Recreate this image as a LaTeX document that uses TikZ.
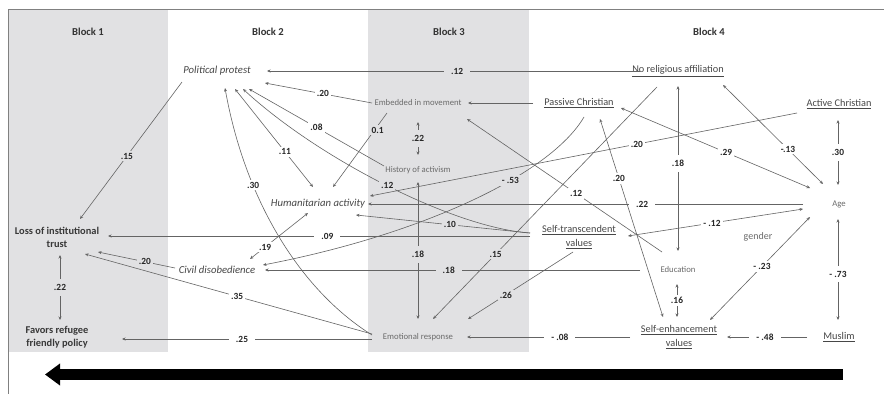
\documentclass[tikz,border=0pt]{standalone}
\usepackage{fontspec}
\setmainfont{Carlito}
\usetikzlibrary{arrows.meta,calc}
\definecolor{blockgray}{RGB}{225,225,227}
\definecolor{linegray}{RGB}{100,100,100}
\begin{document}
\begin{tikzpicture}[x=1pt,y=-1pt,
  >={Stealth[length=3.5pt,width=3pt]},
  txt/.style={font=\fontsize{10.3}{13.5}\selectfont, text=black!72, inner sep=1pt, align=center},
  ltxt/.style={font=\fontsize{8.7}{10.6}\selectfont, text=black!58, inner sep=1pt, align=center},
  btxt/.style={txt, font=\bfseries\fontsize{10.4}{12.8}\selectfont, text=black!78},
  itxt/.style={txt, font=\itshape\fontsize{10.7}{12.8}\selectfont},
  blk/.style={font=\bfseries\fontsize{10.6}{12}\selectfont, text=black!80},
  conn/.style={draw=linegray, line width=0.6pt, ->},
  bconn/.style={draw=linegray, line width=0.6pt, <->},
  lbl/.style={font=\bfseries\fontsize{9.4}{10}\selectfont, text=black!85, fill=white, inner sep=2pt},
  wide/.style={inner xsep=7pt},
  tall/.style={inner ysep=5pt},
  ong/.style={fill=blockgray}]
\useasboundingbox (0,0) rectangle (884,394);
\fill[white] (0,0) rectangle (884,394);
% blocks and frame
\fill[blockgray] (8.5,9.5) rectangle (168,352);
\fill[blockgray] (368,9.5) rectangle (529,352);
\draw[black!50, line width=0.8pt] (884,9) -- (8,9) -- (8,394);
% block labels
\node[blk] (b1) at (88,32) {Block 1};
\node[blk] (b2) at (268,32) {Block 2};
\node[blk] (b3) at (449,32) {Block 3};
\node[blk] (b4) at (709,32) {Block 4};
% variables
\node[itxt] (pp) at (217,71) {Political protest};
\node[txt] (nr) at (678,71) {\underline{No religious affiliation}};
\node[ltxt] (em) at (418,103) {Embedded in movement};
\node[txt] (pc) at (579,103) {\underline{Passive Christian}};
\node[txt] (ac) at (839,104) {\underline{Active Christian}};
\node[ltxt] (ha) at (418,170) {History of activism};
\node[itxt] (hu) at (318,204) {Humanitarian activity};
\node[ltxt] (age) at (839,204) {Age};
\node[txt] (st) at (579,237) {\underline{Self-transcendent}\\\underline{values}};
\node[ltxt, font=\fontsize{10}{12}\selectfont] (gen) at (758,237) {gender};
\node[btxt] (lt) at (57,237) {Loss of institutional\\trust};
\node[itxt] (cd) at (217,270) {Civil disobedience};
\node[ltxt] (ed) at (678,270) {Education};
\node[btxt] (fr) at (57,337) {Favors refugee\\friendly policy};
\node[ltxt] (er) at (418,337) {Emotional response};
\node[txt] (se) at (679,337) {\underline{Self-enhancement}\\\underline{values}};
\node[txt] (mu) at (839,337) {\underline{Muslim}};
% paths
\draw[conn] ($(nr)+(-38,0)$) -- node[lbl,wide,ong,pos=0.49]{.12} ($(pp)+(50,0)$);
\draw[conn] ($(em)+(-46,0)$) -- node[lbl,pos=0.46]{.20} ($(pp)+(48,12)$);
\draw[conn] ($(ha)+(-34,-4)$) -- node[lbl,pos=0.50]{.08} ($(pp)+(32,18)$);
\draw[bconn] ($(hu)+(-5,-17)$) -- node[lbl,pos=0.36]{.11} ($(pp)+(18,18)$);
\draw[conn] ($(st)+(-49,-4)$) .. controls (455,228) and (320,160) .. ($(pp)+(26,18)$) node[lbl,ong,pos=0.5]{.12};
\draw[conn] ($(em)+(-31,10)$) -- node[lbl,ong,pos=0.23,xshift=3pt]{0.1} ($(hu)+(15,-17)$);
\draw[bconn] ($(em)+(0,19)$) -- node[lbl,tall,ong]{.22} ($(ha)+(0,-15)$);
\draw[conn] ($(pc)+(-46,0)$) -- ($(em)+(50,0)$);
\draw[conn] ($(ed)+(-16,-18)$) -- node[lbl,pos=0.44]{.12} ($(em)+(49,16)$);
\draw[conn] ($(pc)+(5,14)$) .. controls (550,175) and (420,235) .. ($(cd)+(46,-5)$) node[lbl,ong,pos=0.37]{- .53};
\draw[conn] ($(nr)+(-21,16)$) -- node[lbl,ong,pos=0.72]{.15} ($(er)+(15,-18)$);
\draw[conn] ($(ac)+(-42,9)$) -- node[lbl,pos=0.375]{.20} ($(hu)+(52,-8)$);
\draw[bconn] ($(pc)+(21,16)$) -- node[lbl,pos=0.30]{.20} ($(se)+(-16,-20)$);
\draw[bconn] ($(pc)+(42,5)$) -- node[lbl,pos=0.556]{.29} ($(age)+(-29,-16)$);
\draw[bconn] ($(nr)+(45,14)$) -- node[lbl,pos=0.65]{-.13} ($(age)+(-16,-20)$);
\draw[bconn] ($(ac)+(-1,16)$) -- node[lbl,tall]{.30} ($(age)+(-1,-19)$);
\draw[bconn] ($(nr)+(0,15)$) -- node[lbl,tall,pos=0.47]{.18} ($(ed)+(0,-19)$);
\draw[bconn] ($(st)+(49,-1)$) -- node[lbl,pos=0.48]{- .12} ($(age)+(-36,5)$);
\draw[conn] ($(age)+(-36,0)$) -- node[lbl,wide,pos=0.37]{.22} ($(hu)+(50,0)$);
\draw[bconn] ($(se)+(31,-17)$) -- node[lbl,pos=0.52]{- .23} ($(age)+(-29,13)$);
\draw[bconn] ($(mu)+(-1,-17)$) -- node[lbl,tall,pos=0.455]{- .73} ($(age)+(-1,15)$);
\draw[bconn] ($(ed)+(-1,14)$) -- node[lbl]{.16} ($(se)+(-2,-20)$);
\draw[conn] ($(mu)+(-32,0)$) -- node[lbl,wide,pos=0.525]{- .48} ($(se)+(48,0)$);
\draw[conn] ($(se)+(-49,0)$) -- node[lbl,wide,pos=0.43]{- .08} ($(er)+(49,0)$);
\draw[conn] ($(st)+(-6,15)$) -- node[lbl,ong,pos=0.64]{.26} ($(er)+(50,-18)$);
\draw[conn] ($(ed)+(-38,0)$) -- node[lbl,wide,ong,pos=0.51]{.18} ($(cd)+(48,0)$);
\draw[bconn] ($(ha)+(0,12)$) -- node[lbl,tall,ong,pos=0.53]{.18} ($(er)+(0,-18)$);
\draw[conn] ($(st)+(-49,-4)$) -- node[lbl,ong,pos=0.46]{.10} ($(hu)+(38,11)$);
\draw[conn] ($(st)+(-49,-1)$) -- node[lbl,wide,pos=0.48]{.09} ($(lt)+(51,-1)$);
\draw[bconn] ($(cd)+(33,-11)$) -- node[lbl,pos=0.26]{.19} ($(hu)+(-10,9)$);
\draw[conn] ($(cd)+(-42,-2)$) -- node[lbl,ong,pos=0.39]{.20} ($(lt)+(41,15)$);
\draw[conn] ($(er)+(-46,-3)$) -- node[lbl,pos=0.47]{.35} ($(lt)+(28,17)$);
\draw[conn] ($(er)+(-46,2)$) -- node[lbl,wide,pos=0.52]{.25} ($(fr)+(65,2)$);
\draw[bconn] ($(lt)+(3,18)$) -- node[lbl,tall,ong]{.22} ($(fr)+(3,-17)$);
\draw[conn] ($(pp)+(-35,11)$) -- node[lbl,ong,pos=0.54]{.15} ($(lt)+(23,-18)$);
\draw[conn] ($(er)+(-46,-2)$) .. controls (300,290) and (245,200) .. ($(pp)+(8,17)$) node[lbl,pos=0.69]{.30};
% direction arrow
\coordinate (arrR) at (843,374.5);
\coordinate (arrL) at (45,374.5);
\draw[line width=11pt, -{Triangle[length=15pt,width=21pt]}] (arrR) -- (arrL);
\end{tikzpicture}
\end{document}
